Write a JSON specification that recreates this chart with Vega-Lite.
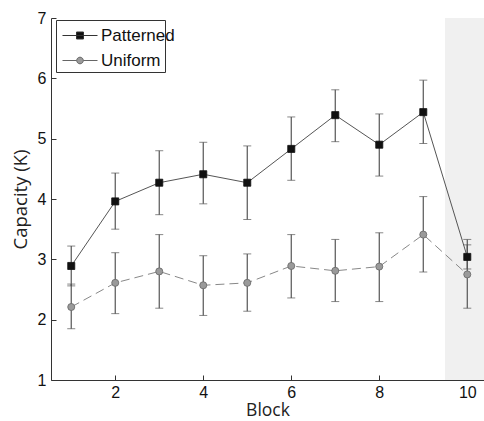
{
  "$schema": "https://vega.github.io/schema/vega-lite/v6.json",
  "autosize": {"type": "none"},
  "width": 433,
  "height": 362,
  "padding": {"left": 51, "top": 18, "right": 0, "bottom": 41},
  "background": "white",
  "config": {
    "view": {"stroke": null},
    "axis": {"labelFont": "Liberation Sans", "labelFontSize": 16, "labelColor": "#111", "titleFont": "Open Sans", "titleFontSize": 18.5, "titleFontWeight": "normal", "titleColor": "#222", "domainColor": "#333", "tickColor": "#333", "grid": false},
    "legend": {"labelFont": "Liberation Sans", "labelFontSize": 17, "labelColor": "#111", "padding": 3.5, "symbolOffset": 11.5, "labelOffset": 12, "symbolSize": 289, "symbolStrokeWidth": 1, "titleFont": "Liberation Sans", "titleFontSize": 17, "titlePadding": 11, "titleAnchor": "start"}
  },
  "data": {"values": [
    {"block": 1, "series": "Patterned", "value": 2.89, "lo": 2.56, "hi": 3.22},
    {"block": 2, "series": "Patterned", "value": 3.96, "lo": 3.50, "hi": 4.43},
    {"block": 3, "series": "Patterned", "value": 4.27, "lo": 3.74, "hi": 4.80},
    {"block": 4, "series": "Patterned", "value": 4.41, "lo": 3.92, "hi": 4.94},
    {"block": 5, "series": "Patterned", "value": 4.27, "lo": 3.66, "hi": 4.88},
    {"block": 6, "series": "Patterned", "value": 4.83, "lo": 4.31, "hi": 5.36},
    {"block": 7, "series": "Patterned", "value": 5.39, "lo": 4.95, "hi": 5.81},
    {"block": 8, "series": "Patterned", "value": 4.90, "lo": 4.38, "hi": 5.41},
    {"block": 9, "series": "Patterned", "value": 5.44, "lo": 4.92, "hi": 5.97},
    {"block": 10, "series": "Patterned", "value": 3.04, "lo": 2.84, "hi": 3.33},
    {"block": 1, "series": "Uniform", "value": 2.21, "lo": 1.85, "hi": 2.59},
    {"block": 2, "series": "Uniform", "value": 2.61, "lo": 2.10, "hi": 3.11},
    {"block": 3, "series": "Uniform", "value": 2.80, "lo": 2.19, "hi": 3.41},
    {"block": 4, "series": "Uniform", "value": 2.57, "lo": 2.07, "hi": 3.06},
    {"block": 5, "series": "Uniform", "value": 2.61, "lo": 2.14, "hi": 3.09},
    {"block": 6, "series": "Uniform", "value": 2.89, "lo": 2.36, "hi": 3.41},
    {"block": 7, "series": "Uniform", "value": 2.81, "lo": 2.30, "hi": 3.33},
    {"block": 8, "series": "Uniform", "value": 2.88, "lo": 2.30, "hi": 3.44},
    {"block": 9, "series": "Uniform", "value": 3.41, "lo": 2.79, "hi": 4.04},
    {"block": 10, "series": "Uniform", "value": 2.75, "lo": 2.19, "hi": 3.24}
  ]},
  "encoding": {
    "x": {"field": "block", "type": "quantitative", "title": "Block",
      "scale": {"domain": [0.54, 10.38], "nice": false, "zero": false},
      "axis": {"values": [2, 4, 6, 8, 10], "tickSize": -5, "labelPadding": 9, "titlePadding": 1, "titleFontSize": 17.5, "labelFlush": false}},
    "y": {"field": "value", "type": "quantitative", "title": "Capacity (K)",
      "scale": {"domain": [1, 7], "nice": false, "zero": false},
      "axis": {"values": [1, 2, 3, 4, 5, 6, 7], "tickSize": -5, "labelPadding": 10, "titlePadding": 7, "labelFlush": false}}
  },
  "layer": [
    {
      "mark": {"type": "rect", "color": "#f0f0f0"},
      "encoding": {"x": {"datum": 9.5}, "x2": {"datum": 10.38}, "y": {"datum": 1}, "y2": {"datum": 7}}
    },
    {
      "mark": {"type": "errorbar", "ticks": {"size": 8, "color": "#555", "strokeWidth": 1.2}, "rule": {"color": "#555", "strokeWidth": 1.2}},
      "encoding": {"y": {"field": "lo", "type": "quantitative"}, "y2": {"field": "hi"}, "detail": {"field": "series"}}
    },
    {
      "transform": [{"filter": "datum.series === 'Patterned'"}],
      "mark": {"type": "line", "color": "#555", "strokeWidth": 1}
    },
    {
      "transform": [{"filter": "datum.series === 'Uniform'"}],
      "mark": {"type": "line", "color": "#888", "strokeWidth": 1, "strokeDash": [9, 5]}
    },
    {
      "transform": [{"filter": "datum.series === 'Patterned'"}],
      "mark": {"type": "point", "shape": "square", "filled": true, "opacity": 1, "size": 50, "stroke": "#111", "strokeWidth": 0.8},
      "encoding": {
        "fill": {"field": "series", "type": "nominal", "scale": {"domain": ["Patterned"], "range": ["#111111"]},
          "legend": {"title": null, "orient": "none", "legendX": 5, "legendY": 5,
            "symbolType": "M-2.06,0H2.06M-0.41,-0.41H0.41V0.41H-0.41Z", "symbolStrokeColor": "#333", "symbolFillColor": "#111"}}
      }
    },
    {
      "transform": [{"filter": "datum.series === 'Uniform'"}],
      "mark": {"type": "point", "shape": "circle", "filled": true, "fill": "#9a9a9a", "opacity": 1, "size": 50, "strokeWidth": 0.8},
      "encoding": {
        "stroke": {"field": "series", "type": "nominal", "scale": {"domain": ["Uniform"], "range": ["#666666"]},
          "legend": {"title": "\u00a0\u00a0\u00a0\u00a0\u00a0\u00a0\u00a0\u00a0\u00a0\u00a0\u00a0\u00a0\u00a0\u00a0\u00a0\u00a0\u00a0\u00a0\u00a0\u00a0\u00a0\u00a0\u00a0\u00a0\u00a0", "orient": "none", "legendX": 5, "legendY": 2, "strokeColor": "#333",
            "symbolType": "M-2.06,0H-0.39M0.39,0H2.06M-0.39,0A0.39,0.39 0 1,0 0.39,0A0.39,0.39 0 1,0 -0.39,0Z", "symbolStrokeColor": "#777", "symbolFillColor": "#9a9a9a"}}
      }
    }
  ]
}
